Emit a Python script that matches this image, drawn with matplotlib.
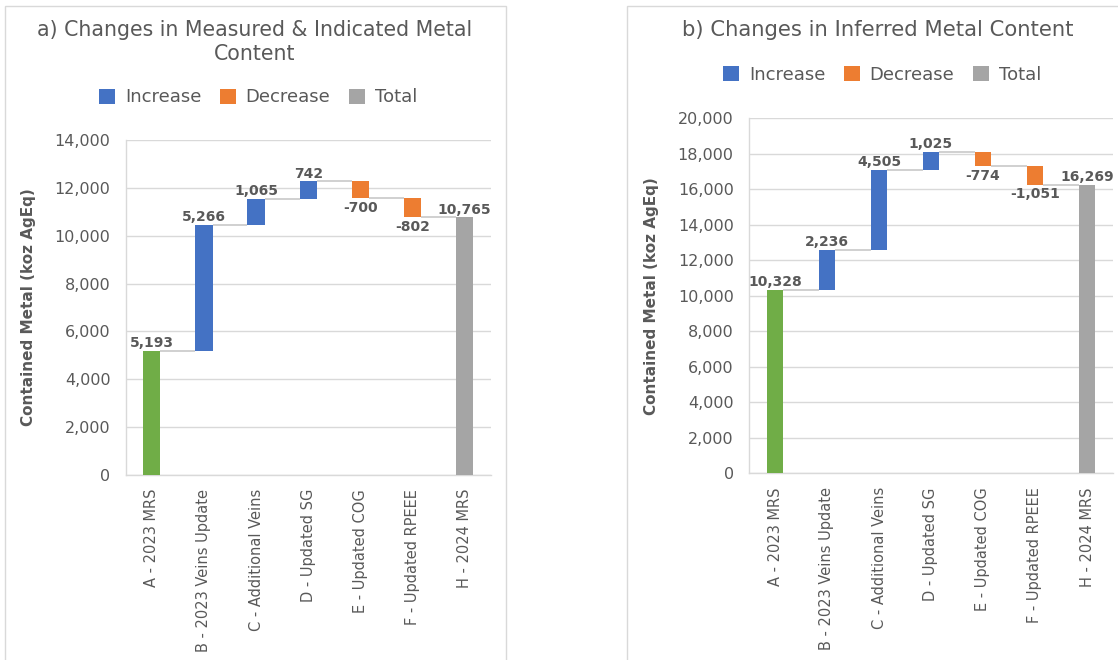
import matplotlib
matplotlib.use("Agg")
import matplotlib.pyplot as plt
from matplotlib.patches import Rectangle, Patch
from matplotlib.ticker import FuncFormatter, MultipleLocator

# ---------------- data ----------------
categories = ["A - 2023 MRS", "B - 2023 Veins Update", "C - Additional Veins",
              "D - Updated SG", "E - Updated COG", "F - Updated RPEEE", "H - 2024 MRS"]
kinds = ["start", "change", "change", "change", "change", "change", "total"]
mi_values = [5193, 5266, 1065, 742, -700, -802, 10765]
inf_values = [10328, 2236, 4505, 1025, -774, -1051, 16269]

title_a = "a) Changes in Measured & Indicated Metal\nContent"
title_b = "b) Changes in Inferred Metal Content"
ylabel = "Contained Metal (koz AgEq)"
legend_labels = ["Increase", "Decrease", "Total"]

# ---------------- style ----------------
C_START = "#70AD47"
C_INC = "#4472C4"
C_DEC = "#ED7D31"
C_TOT = "#A5A5A5"
GRID = "#D9D9D9"
TXT = "#595959"

plt.rcParams["font.family"] = ["DejaVu Sans"]

W, H = 1118, 660
fig = plt.figure(figsize=(W / 100, H / 100), dpi=100)
fig.patch.set_facecolor("white")


def px_rect(x0, y_bottom, x1, y_top):
    return [x0 / W, (H - y_bottom) / H, (x1 - x0) / W, (y_bottom - y_top) / H]


def draw_panel(ax, values, ymax, bar_w):
    n = len(values)
    running = 0
    levels = []
    for i, (v, k) in enumerate(zip(values, kinds)):
        if k == "start":
            bottom, height, color = 0, v, C_START
            running = v
        elif k == "total":
            bottom, height, color = 0, v, C_TOT
            running = v
        else:
            if v >= 0:
                bottom, height, color = running, v, C_INC
            else:
                bottom, height, color = running + v, -v, C_DEC
            running = running + v
        levels.append(running)
        ax.bar(i, height, bottom=bottom, width=bar_w, color=color,
               edgecolor="none", zorder=3)
        lab = f"{v:,}"
        if k == "change" and v < 0:
            ax.annotate(lab, (i, bottom), xytext=(0, -2.0),
                        textcoords="offset points", ha="center", va="top",
                        fontsize=10, fontweight="bold", color=TXT, zorder=5)
        else:
            ax.annotate(lab, (i, bottom + height), xytext=(0, 2.8),
                        textcoords="offset points", ha="center", va="baseline",
                        fontsize=10, fontweight="bold", color=TXT, zorder=5)
    # connectors
    for i in range(n - 1):
        ax.plot([i + bar_w / 2, i + 1 - bar_w / 2], [levels[i], levels[i]],
                color="#D0D0D0", lw=1.4, zorder=2, solid_capstyle="butt")

    ax.set_xlim(-0.5, n - 0.5)
    ax.set_ylim(0, ymax)
    ax.yaxis.set_major_locator(MultipleLocator(2000))
    ax.yaxis.set_major_formatter(FuncFormatter(lambda v, p: f"{int(v):,}"))
    ax.grid(axis="y", color=GRID, lw=1, zorder=0)
    ax.set_axisbelow(True)
    for s in ["top", "right"]:
        ax.spines[s].set_visible(False)
    for s in ["left", "bottom"]:
        ax.spines[s].set_color(GRID)
        ax.spines[s].set_linewidth(1)
    ax.set_xticks(range(n))
    ax.set_xticklabels(categories, rotation=90, fontsize=10.5, color=TXT)
    ax.tick_params(axis="x", length=0, pad=10)
    ax.tick_params(axis="y", length=0, pad=11, labelsize=11.5, labelcolor=TXT)
    ax.text(-0.267, 0.5, ylabel, transform=ax.transAxes, rotation=90,
            ha="center", va="center", fontsize=11, fontweight="bold", color=TXT)


# panel borders
fig.add_artist(Rectangle((4.5 / W, -0.05), (505.7 - 4.5) / W, (H - 6) / H + 0.05,
                         transform=fig.transFigure, fill=False, ec=GRID, lw=1))
fig.add_artist(Rectangle((626.5 / W, -0.05), 0.6, (H - 6) / H + 0.05,
                         transform=fig.transFigure, fill=False, ec=GRID, lw=1))

ax1 = fig.add_axes(px_rect(125.7, 475, 490.7, 140))
ax2 = fig.add_axes(px_rect(749, 473.3, 1113, 118.3))

draw_panel(ax1, mi_values, 14000, 0.33)
draw_panel(ax2, inf_values, 20000, 0.32)

# titles
fig.text(255 / W, 1 - 42 / H, title_a, ha="center", va="center",
         fontsize=14.8, color=TXT, multialignment="center", linespacing=1.2)
fig.text(878 / W, 1 - 30 / H, title_b, ha="center", va="center",
         fontsize=15.2, color=TXT)

# legends
handles = [Patch(facecolor=C_INC, edgecolor="none"),
           Patch(facecolor=C_DEC, edgecolor="none"),
           Patch(facecolor=C_TOT, edgecolor="none")]
for cx, cy in [(258, 97.5), (882, 75)]:
    fig.legend(handles, legend_labels, loc="center",
               bbox_to_anchor=(cx / W, 1 - cy / H), ncol=3, frameon=False,
               fontsize=13, labelcolor=TXT, handlelength=0.9, handleheight=0.9,
               handletextpad=0.55, columnspacing=1.0, borderpad=0)

fig.savefig("out.png", dpi=100)
